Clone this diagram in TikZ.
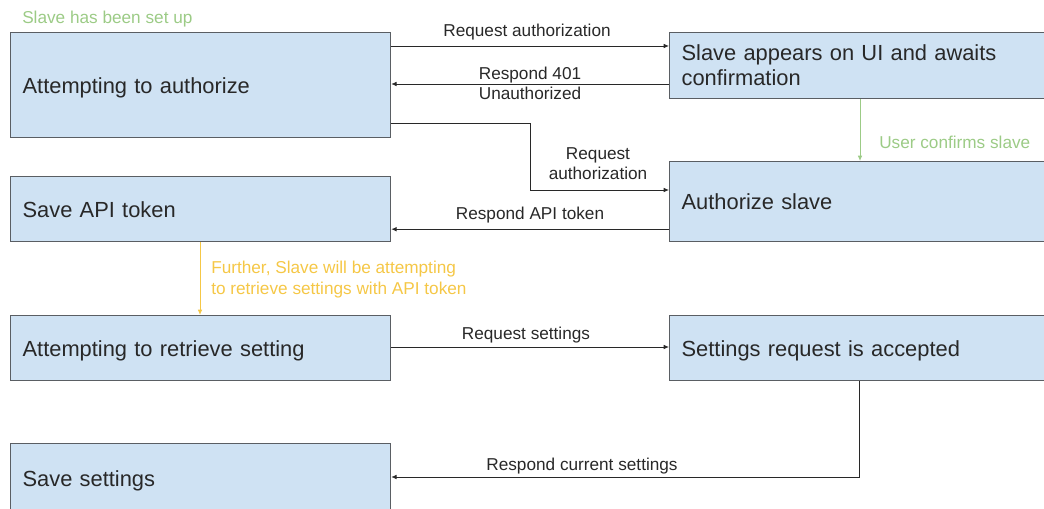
\documentclass[tikz,border=0pt]{standalone}
\usepackage{fontspec}
\setmainfont{Liberation Sans}
\usetikzlibrary{calc,arrows.meta}
\definecolor{boxfill}{HTML}{CFE2F3}
\definecolor{boxline}{HTML}{5A5E63}
\definecolor{ink}{HTML}{282828}
\definecolor{okgreen}{HTML}{9CCB86}
\definecolor{amber}{HTML}{F5C746}

\begin{document}
\begin{tikzpicture}[x=0.75pt,y=-0.75pt,
  stagebox/.style={draw=boxline, line width=0.9pt, fill=boxfill, anchor=north west,
    inner xsep=9pt, inner ysep=0pt, align=left, text=ink,
    font=\fontsize{16.4}{18.75}\selectfont},
  leftbox/.style={stagebox, minimum width=285pt, text width=267pt, text depth=0pt},
  rightbox/.style={stagebox, minimum width=286pt, text width=268pt},
  msg/.style={draw=ink, line width=0.7pt, -{Latex[length=4pt,width=3.5pt]}},
  msglabel/.style={text=ink, font=\fontsize{12.9}{15}\selectfont, align=center, inner sep=0pt},
  note/.style={font=\fontsize{12.9}{15.75}\selectfont, align=left, inner sep=0pt}
]
\useasboundingbox (0,0) rectangle (1044,509);

% stages of the slave (left) and of the master (right)
\node[leftbox, minimum height=78.75pt] (auth) at (10,32) {Attempting to authorize};
\node[leftbox, minimum height=48.75pt] (token) at (10,176) {Save API token};
\node[leftbox, minimum height=48.75pt] (retrieve) at (10,315) {Attempting to retrieve setting};
\node[leftbox, minimum height=52.5pt] (saveset) at (10,443) {Save settings};

\node[rightbox, minimum height=49.5pt] (appears) at (669,32) {Slave appears on UI and awaits\\confirmation};
\node[rightbox, text depth=0pt, minimum height=60pt] (authslave) at (669,161) {Authorize slave};
\node[rightbox, text depth=0pt, minimum height=48.75pt] (accepted) at (669,315) {Settings request is accepted};

% notes
\node[note, text=okgreen, anchor=west] (setup) at (22,19) {Slave has been set up};

% messages
\draw[msg] ($(auth.north east)+(0,14)$) -- ($(appears.north west)+(0,14)$);
\node[msglabel] (l1) at (527,32) {Request authorization};

\draw[msg] ($(appears.north west)+(0,52)$) -- ($(auth.north east)+(0,52)$);
\node[msglabel] (l2) at (530,83.5) {Respond 401\\Unauthorized};

\coordinate (bend1) at (530,123);
\coordinate (bend2) at (530,190);
\draw[msg] (auth.east |- bend1) -- (bend1) -- (bend2) -- (authslave.west |- bend2);
\node[msglabel] (l3) at (598,164) {Request\\authorization};

\draw[msg] ($(authslave.south west)+(0,-13)$) -- ($(token.south east)+(0,-13)$);
\node[msglabel] (l4) at (530,215) {Respond API token};

\coordinate (gx) at (860,0);
\draw[draw=okgreen, line width=0.7pt, -{Latex[length=4pt,width=3.5pt]}]
  (appears.south -| gx) -- (authslave.north -| gx);
\node[note, text=okgreen, anchor=west] (l5) at (879,142) {User confirms slave};

\coordinate (ox) at (200,0);
\draw[draw=amber, line width=0.7pt, -{Latex[length=4pt,width=3.5pt]}]
  (token.south -| ox) -- (retrieve.north -| ox);
\node[note, text=amber, anchor=west] (l6) at (211,279.5) {Further, Slave will be attempting\\to retrieve settings with API token};

\draw[msg] ($(retrieve.north east)+(0,32)$) -- ($(accepted.north west)+(0,32)$);
\node[msglabel] (l7) at (526,335) {Request settings};

\coordinate (rx) at (859,477);
\draw[msg] (accepted.south -| rx) -- (rx) -- (saveset.east |- rx);
\node[msglabel] (l8) at (582,466) {Respond current settings};
\end{tikzpicture}
\end{document}
